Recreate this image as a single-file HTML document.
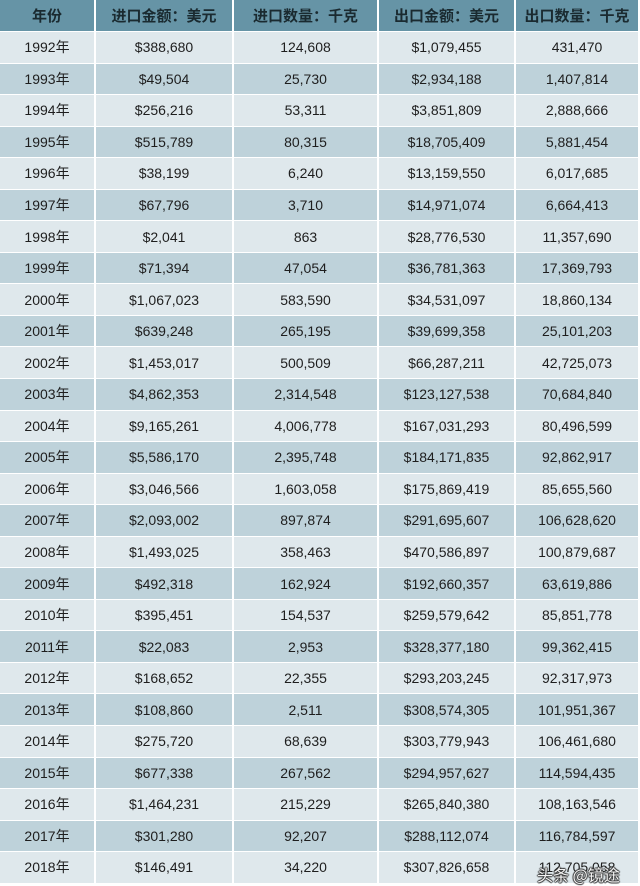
<!DOCTYPE html>
<html><head><meta charset="utf-8"><style>
html,body{margin:0;padding:0;background:#fff;width:640px;height:886px;overflow:hidden}
.g{position:absolute;left:0;top:0;display:grid;grid-template-columns:94px 136px 143px 135px 122px;column-gap:2px;row-gap:1px;grid-template-rows:31px repeat(27,30.55px);background:#fff}
.g div{display:flex;align-items:center;justify-content:center;font-family:"Liberation Sans","Noto Sans CJK SC",sans-serif;font-size:14px;color:#1e1e1e;white-space:nowrap}
.g .h{background:#6694a6;font-weight:bold;font-size:15px;color:#1a2a30}
.g .a{background:#dfe8ec}
.g .b{background:#bed2da}
.wm{position:absolute;left:537px;top:862px;font-family:"Noto Sans CJK SC",sans-serif;font-size:16px;color:#f4f4f4;text-shadow:0 0 1px #333,1px 0 1px #333,-1px 0 1px #333,0 1px 1px #333,0 -1px 1px #333}
</style></head><body>
<div class="g">
<div class="h">年份</div><div class="h">进口金额：美元</div><div class="h">进口数量：千克</div><div class="h">出口金额：美元</div><div class="h">出口数量：千克</div>
<div class="a">1992年</div><div class="a">$388,680</div><div class="a">124,608</div><div class="a">$1,079,455</div><div class="a">431,470</div>
<div class="b">1993年</div><div class="b">$49,504</div><div class="b">25,730</div><div class="b">$2,934,188</div><div class="b">1,407,814</div>
<div class="a">1994年</div><div class="a">$256,216</div><div class="a">53,311</div><div class="a">$3,851,809</div><div class="a">2,888,666</div>
<div class="b">1995年</div><div class="b">$515,789</div><div class="b">80,315</div><div class="b">$18,705,409</div><div class="b">5,881,454</div>
<div class="a">1996年</div><div class="a">$38,199</div><div class="a">6,240</div><div class="a">$13,159,550</div><div class="a">6,017,685</div>
<div class="b">1997年</div><div class="b">$67,796</div><div class="b">3,710</div><div class="b">$14,971,074</div><div class="b">6,664,413</div>
<div class="a">1998年</div><div class="a">$2,041</div><div class="a">863</div><div class="a">$28,776,530</div><div class="a">11,357,690</div>
<div class="b">1999年</div><div class="b">$71,394</div><div class="b">47,054</div><div class="b">$36,781,363</div><div class="b">17,369,793</div>
<div class="a">2000年</div><div class="a">$1,067,023</div><div class="a">583,590</div><div class="a">$34,531,097</div><div class="a">18,860,134</div>
<div class="b">2001年</div><div class="b">$639,248</div><div class="b">265,195</div><div class="b">$39,699,358</div><div class="b">25,101,203</div>
<div class="a">2002年</div><div class="a">$1,453,017</div><div class="a">500,509</div><div class="a">$66,287,211</div><div class="a">42,725,073</div>
<div class="b">2003年</div><div class="b">$4,862,353</div><div class="b">2,314,548</div><div class="b">$123,127,538</div><div class="b">70,684,840</div>
<div class="a">2004年</div><div class="a">$9,165,261</div><div class="a">4,006,778</div><div class="a">$167,031,293</div><div class="a">80,496,599</div>
<div class="b">2005年</div><div class="b">$5,586,170</div><div class="b">2,395,748</div><div class="b">$184,171,835</div><div class="b">92,862,917</div>
<div class="a">2006年</div><div class="a">$3,046,566</div><div class="a">1,603,058</div><div class="a">$175,869,419</div><div class="a">85,655,560</div>
<div class="b">2007年</div><div class="b">$2,093,002</div><div class="b">897,874</div><div class="b">$291,695,607</div><div class="b">106,628,620</div>
<div class="a">2008年</div><div class="a">$1,493,025</div><div class="a">358,463</div><div class="a">$470,586,897</div><div class="a">100,879,687</div>
<div class="b">2009年</div><div class="b">$492,318</div><div class="b">162,924</div><div class="b">$192,660,357</div><div class="b">63,619,886</div>
<div class="a">2010年</div><div class="a">$395,451</div><div class="a">154,537</div><div class="a">$259,579,642</div><div class="a">85,851,778</div>
<div class="b">2011年</div><div class="b">$22,083</div><div class="b">2,953</div><div class="b">$328,377,180</div><div class="b">99,362,415</div>
<div class="a">2012年</div><div class="a">$168,652</div><div class="a">22,355</div><div class="a">$293,203,245</div><div class="a">92,317,973</div>
<div class="b">2013年</div><div class="b">$108,860</div><div class="b">2,511</div><div class="b">$308,574,305</div><div class="b">101,951,367</div>
<div class="a">2014年</div><div class="a">$275,720</div><div class="a">68,639</div><div class="a">$303,779,943</div><div class="a">106,461,680</div>
<div class="b">2015年</div><div class="b">$677,338</div><div class="b">267,562</div><div class="b">$294,957,627</div><div class="b">114,594,435</div>
<div class="a">2016年</div><div class="a">$1,464,231</div><div class="a">215,229</div><div class="a">$265,840,380</div><div class="a">108,163,546</div>
<div class="b">2017年</div><div class="b">$301,280</div><div class="b">92,207</div><div class="b">$288,112,074</div><div class="b">116,784,597</div>
<div class="a">2018年</div><div class="a">$146,491</div><div class="a">34,220</div><div class="a">$307,826,658</div><div class="a">112,705,058</div>
</div>
<div class="wm">头条 @镜途</div>
</body></html>
